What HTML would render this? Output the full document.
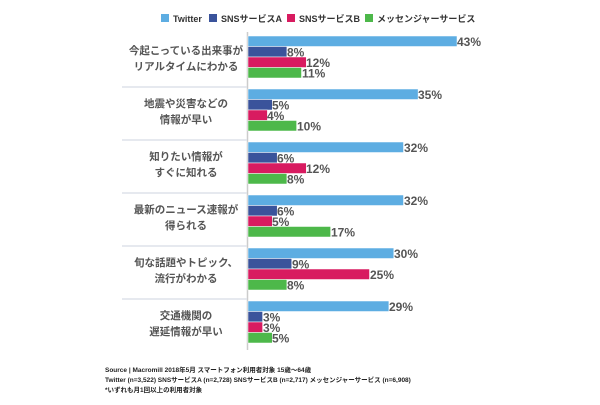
<!DOCTYPE html><html><head><meta charset="utf-8"><style>
body{margin:0;width:600px;height:400px;background:#fff;overflow:hidden;font-family:"Liberation Sans","Noto Sans CJK JP",sans-serif}
</style></head><body>
<svg width="600" height="400" xmlns="http://www.w3.org/2000/svg" font-family="Liberation Sans, Noto Sans CJK JP, sans-serif">
<g font-size="9" font-weight="bold" fill="#333">
<rect x="161" y="14" width="8" height="8" fill="#5dade2"/><text x="173" y="22">Twitter</text>
<rect x="209" y="14" width="8" height="8" fill="#3a539b"/><text x="221" y="22">SNSサービスA</text>
<rect x="287" y="14" width="8" height="8" fill="#d81b60"/><text x="299" y="22">SNSサービスB</text>
<rect x="365" y="14" width="8" height="8" fill="#4db84a"/><text x="377" y="22">メッセンジャーサービス</text>
</g>
<line x1="247.5" y1="32" x2="247.5" y2="350" stroke="#ccc" stroke-width="1.5"/>
<g stroke="#dde2ea" stroke-width="1.5">
<line x1="122" y1="87" x2="247" y2="87"/><line x1="122" y1="140" x2="247" y2="140"/><line x1="122" y1="193" x2="247" y2="193"/><line x1="122" y1="246" x2="247" y2="246"/><line x1="122" y1="299" x2="247" y2="299"/>
</g>
<g stroke="#fff" stroke-width="0.5">
<rect x="248" y="36" width="209" height="10.5" fill="#5dade2"/>
<rect x="248" y="46.5" width="38.9" height="10.5" fill="#3a539b"/>
<rect x="248" y="57" width="58.3" height="10.5" fill="#d81b60"/>
<rect x="248" y="67.5" width="53.5" height="10.5" fill="#4db84a"/>
<rect x="248" y="89" width="170.1" height="10.5" fill="#5dade2"/>
<rect x="248" y="99.5" width="24.3" height="10.5" fill="#3a539b"/>
<rect x="248" y="110" width="19.4" height="10.5" fill="#d81b60"/>
<rect x="248" y="120.5" width="48.6" height="10.5" fill="#4db84a"/>
<rect x="248" y="142" width="155.5" height="10.5" fill="#5dade2"/>
<rect x="248" y="152.5" width="29.2" height="10.5" fill="#3a539b"/>
<rect x="248" y="163" width="58.3" height="10.5" fill="#d81b60"/>
<rect x="248" y="173.5" width="38.9" height="10.5" fill="#4db84a"/>
<rect x="248" y="195" width="155.5" height="10.5" fill="#5dade2"/>
<rect x="248" y="205.5" width="29.2" height="10.5" fill="#3a539b"/>
<rect x="248" y="216" width="24.3" height="10.5" fill="#d81b60"/>
<rect x="248" y="226.5" width="82.6" height="10.5" fill="#4db84a"/>
<rect x="248" y="248" width="145.8" height="10.5" fill="#5dade2"/>
<rect x="248" y="258.5" width="43.7" height="10.5" fill="#3a539b"/>
<rect x="248" y="269" width="121.5" height="10.5" fill="#d81b60"/>
<rect x="248" y="279.5" width="38.9" height="10.5" fill="#4db84a"/>
<rect x="248" y="301" width="140.9" height="10.5" fill="#5dade2"/>
<rect x="248" y="311.5" width="14.6" height="10.5" fill="#3a539b"/>
<rect x="248" y="322" width="14.6" height="10.5" fill="#d81b60"/>
<rect x="248" y="332.5" width="24.3" height="10.5" fill="#4db84a"/>
</g>
<g font-size="12" font-weight="bold" fill="#555">
<text x="457" y="46">43%</text><text x="287" y="56.5">8%</text><text x="306" y="67">12%</text><text x="302" y="77.5">11%</text>
<text x="418" y="99">35%</text><text x="272" y="109.5">5%</text><text x="267" y="120">4%</text><text x="297" y="130.5">10%</text>
<text x="404" y="152">32%</text><text x="277" y="162.5">6%</text><text x="306" y="173">12%</text><text x="287" y="183.5">8%</text>
<text x="404" y="205">32%</text><text x="277" y="215.5">6%</text><text x="272" y="226">5%</text><text x="331" y="236.5">17%</text>
<text x="394" y="258">30%</text><text x="292" y="268.5">9%</text><text x="370" y="279">25%</text><text x="287" y="289.5">8%</text>
<text x="389" y="311">29%</text><text x="263" y="321.5">3%</text><text x="263" y="332">3%</text><text x="272" y="342.5">5%</text>
</g>
<g font-size="10.5" font-weight="bold" fill="#555" text-anchor="middle">
<text x="186" y="54">今起こっている出来事が</text><text x="186" y="70">リアルタイムにわかる</text>
<text x="186" y="107">地震や災害などの</text><text x="186" y="123">情報が早い</text>
<text x="186" y="160">知りたい情報が</text><text x="186" y="176">すぐに知れる</text>
<text x="186" y="213">最新のニュース速報が</text><text x="186" y="229">得られる</text>
<text x="186" y="266">旬な話題やトピック、</text><text x="186" y="282">流行がわかる</text>
<text x="186" y="319">交通機関の</text><text x="186" y="335">遅延情報が早い</text>
</g>
<g font-size="6.5" font-weight="bold" fill="#222">
<text x="105" y="372">Source | Macromill 2018年5月 スマートフォン利用者対象 15歳〜64歳</text>
<text x="105" y="382">Twitter (n=3,522) SNSサービスA (n=2,728) SNSサービスB (n=2,717) メッセンジャーサービス (n=6,908)</text>
<text x="105" y="392">*いずれも月1回以上の利用者対象</text>
</g>
</svg></body></html>
